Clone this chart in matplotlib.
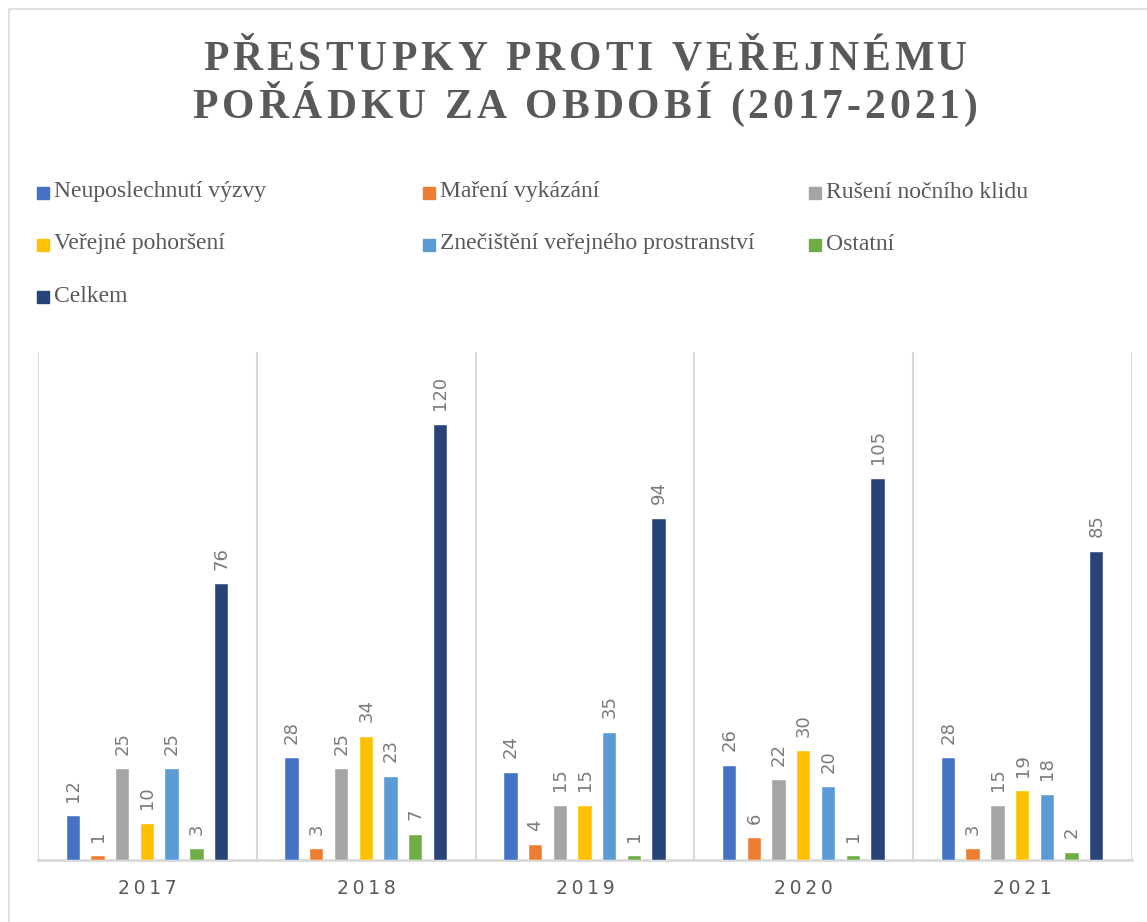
import numpy as np
import matplotlib
matplotlib.use('Agg')
import matplotlib.pyplot as plt
from matplotlib.patches import Rectangle

# data
years = ['2017', '2018', '2019', '2020', '2021']
series = ['Neuposlechnutí výzvy', 'Maření vykázání', 'Rušení nočního klidu',
          'Veřejné pohoršení', 'Znečištění veřejného prostranství', 'Ostatní',
          'Celkem']
neuposlechnuti = [12, 28, 24, 26, 28]
mareni = [1, 3, 4, 6, 3]
ruseni = [25, 25, 15, 22, 15]
pohorseni = [10, 34, 15, 30, 19]
znecisteni = [25, 23, 35, 20, 18]
ostatni = [3, 7, 1, 1, 2]
celkem = [76, 120, 94, 105, 85]
values = [neuposlechnuti, mareni, ruseni, pohorseni, znecisteni, ostatni, celkem]
colors = ['#4472C4', '#ED7D31', '#A5A5A5', '#FFC000', '#5B9BD5', '#70AD47', '#264478']
title_lines = ['PŘESTUPKY PROTI VEŘEJNÉMU', 'POŘÁDKU ZA OBDOBÍ (2017-2021)']

W, H = 1147, 922
fig = plt.figure(figsize=(W / 100, H / 100), dpi=100)
txt_gray = '#595959'
lbl_gray = '#7A7A7A'
grid_gray = '#D9D9D9'

# chart border (left/top edge visible)
fig.patches.append(Rectangle((9 / W, -0.01), 1.2, (H - 9) / H + 0.01,
                             transform=fig.transFigure, fill=False,
                             edgecolor=grid_gray, lw=1.2))

# title with letter spacing: place characters one by one
renderer = fig.canvas.get_renderer()
tfont = dict(fontsize=30, fontweight='bold', family='Liberation Serif', color=txt_gray)
tracking = 4.0
for line, base in zip(title_lines, [70, 118]):
    widths = []
    for ch in line:
        if ch == ' ':
            t = fig.text(0, 0, 'a a', **tfont)
            w = t.get_window_extent(renderer).width
            t.remove()
            t = fig.text(0, 0, 'aa', **tfont)
            w -= t.get_window_extent(renderer).width
            t.remove()
        else:
            t = fig.text(0, 0, ch, **tfont)
            w = t.get_window_extent(renderer).width
            t.remove()
        widths.append(w)
    total = sum(widths) + tracking * (len(line) - 1)
    xpos = 585 - total / 2
    for ch, w in zip(line, widths):
        if ch != ' ':
            fig.text(xpos / W, 1 - base / H, ch, ha='left', va='baseline', **tfont)
        xpos += w + tracking

# legend, laid out on a fixed grid like the original
for i, (name, c) in enumerate(zip(series, colors)):
    row, col = divmod(i, 3)
    x0 = 37 + col * 386
    yc = 193 + row * 52
    fig.patches.append(Rectangle((x0 / W, 1 - (yc + 6) / H), 12 / W, 12 / H,
                                 transform=fig.transFigure, color=c))
    fig.text((x0 + 17) / W, 1 - (yc - 1) / H, name, ha='left', va='center',
             fontsize=17, family='Liberation Serif', color=txt_gray)

ax = fig.add_axes([38 / W, (H - 860) / H, (1132 - 38) / W, (860 - 352) / H])
x = np.arange(len(years))
step = 0.113
width = 0.061
for k, (vals, c) in enumerate(zip(values, colors)):
    pos = x + (k - 3) * step
    bars = ax.bar(pos, vals, width, color=c, edgecolor='white', linewidth=0.3, zorder=3)
    for b, v in zip(bars, vals):
        ax.text(b.get_x() + b.get_width() / 2, v + 4.0, str(v), rotation=90,
                ha='center', va='bottom', fontsize=13, color=lbl_gray)

ax.set_xlim(-0.5, len(years) - 0.5)
ax.set_ylim(0, 140)
for sp in ['top', 'right', 'left']:
    ax.spines[sp].set_visible(False)
ax.spines['bottom'].set_color(grid_gray)
ax.spines['bottom'].set_linewidth(2)
for b in np.arange(-0.5, len(years), 1.0):
    ax.axvline(b, color=grid_gray, lw=1.5, zorder=1)
ax.set_yticks([])
ax.set_xticks(x)
ax.set_xticklabels(['\u2009'.join(y) for y in years], fontsize=13.5, color=txt_gray)
ax.tick_params(axis='x', length=0, pad=14)

fig.savefig('out.png', dpi=100)
